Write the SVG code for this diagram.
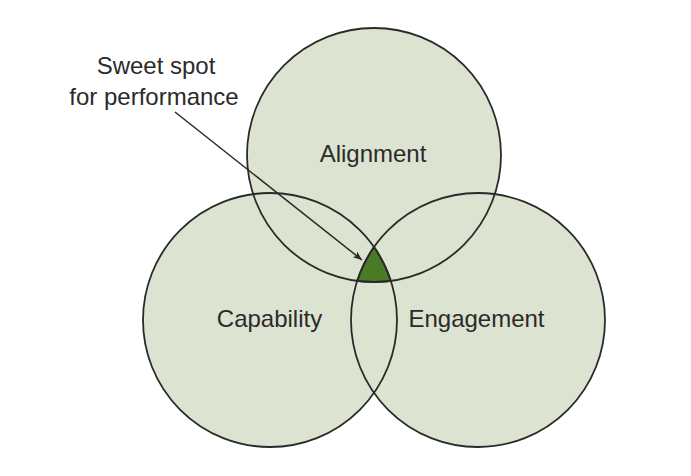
<svg xmlns="http://www.w3.org/2000/svg" width="691" height="476" viewBox="0 0 691 476">
  <style>
    .fill { fill: #dce3d0; stroke: none; }
    .ring { fill: none; stroke: #2a2a2a; stroke-width: 1.8; }
    .label { font-family: "Liberation Sans", Arial, sans-serif; font-size: 24px; fill: #2b2b2b; text-anchor: middle; }
    .conn { stroke: #2a2a2a; stroke-width: 1.5; fill: none; }
  </style>
  <defs>
    <marker id="arrow" viewBox="0 0 10 10" refX="10" refY="5" markerWidth="9" markerHeight="9" markerUnits="userSpaceOnUse" orient="auto">
      <path d="M0,1 L10,5 L0,9 L2.5,5 Z" fill="#2a2a2a"/>
    </marker>
  </defs>
  <rect width="691" height="476" fill="#ffffff"/>
  <g id="fills">
    <circle class="fill" cx="374" cy="155" r="127"/>
    <circle class="fill" cx="270" cy="320" r="127"/>
    <circle class="fill" cx="478" cy="320" r="127"/>
  </g>
  <g id="sweet-spot">
    <path d="M374,247.1 A127,127 0 0 1 390.8,280.9 A127,127 0 0 1 357.2,280.9 A127,127 0 0 1 374,247.1 Z" fill="#4a7a26" stroke="#2a2a2a" stroke-width="1.8"/>
  </g>
  <g id="alignment">
    <circle class="ring" cx="374" cy="155" r="127"/>
    <text class="label" x="373" y="162">Alignment</text>
  </g>
  <g id="capability">
    <circle class="ring" cx="270" cy="320" r="127"/>
    <text class="label" x="269.5" y="327">Capability</text>
  </g>
  <g id="engagement">
    <circle class="ring" cx="478" cy="320" r="127"/>
    <text class="label" x="476.5" y="327">Engagement</text>
  </g>
  <g id="callout">
    <text class="label" x="156" y="74">Sweet spot</text>
    <text class="label" x="154" y="105">for performance</text>
  </g>
  <g id="connectors">
    <line class="conn" x1="175" y1="112" x2="362" y2="260" marker-end="url(#arrow)"/>
  </g>
</svg>
